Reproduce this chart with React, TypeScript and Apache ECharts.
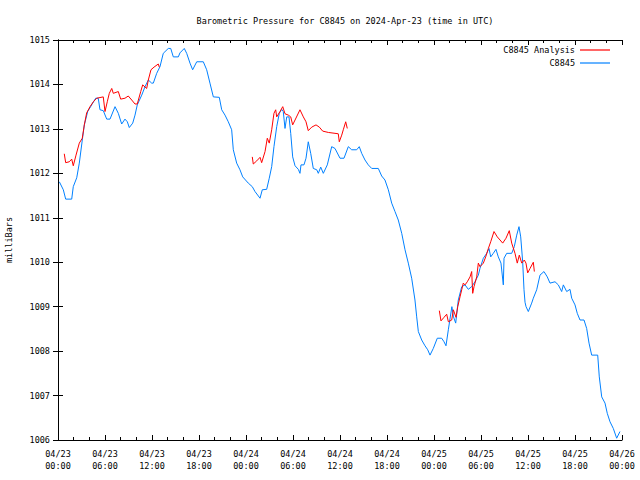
import React, { useEffect, useRef } from "react";
import * as echarts from "echarts";

// hours since 2024-04-23 00:00 UTC
const blueHours = [0.17,0.68,0.98,1.75,1.95,2.39,2.72,3.10,3.36,3.79,4.30,4.81,5.14,5.36,5.78,6.22,6.64,7.28,7.70,8.13,8.55,8.85,9.10,9.54,9.83,10.12,10.69,11.11,11.53,11.96,12.17,12.60,13.02,13.44,14.08,14.39,14.72,15.36,15.57,16.12,16.43,16.85,17.19,17.71,18.55,18.98,19.40,19.83,20.59,20.90,21.32,21.74,22.17,22.38,22.81,23.23,23.58,24.29,24.80,25.15,25.79,26.08,26.64,26.97,27.28,27.57,27.92,28.25,28.56,28.76,28.98,29.20,29.49,29.71,29.96,30.26,30.68,30.89,31.02,31.40,31.66,31.95,32.26,32.59,33.03,33.23,33.54,33.87,34.38,34.94,35.36,36.00,36.51,37.06,37.49,38.13,38.46,38.77,39.19,39.61,40.05,40.89,41.32,41.74,42.17,42.60,43.02,43.44,43.88,44.30,44.72,45.15,45.57,45.79,46.00,46.43,46.85,47.20,47.49,47.91,48.42,48.98,49.28,49.53,49.83,50.28,50.49,50.77,51.10,51.54,51.96,52.38,52.81,53.23,53.66,53.87,54.30,54.73,55.02,55.24,55.57,55.91,56.21,56.55,56.85,56.94,57.28,57.92,58.25,58.56,58.85,59.07,59.32,59.49,59.62,59.75,60.04,60.47,60.68,61.11,61.53,62.04,62.46,62.81,63.45,63.87,64.30,64.51,64.94,65.36,65.58,66.00,66.29,66.64,67.15,67.49,67.79,68.13,68.90,69.10,69.41,69.83,70.12,70.47,70.89,71.32,71.74];
const bluePressure = [1011.81,1011.63,1011.42,1011.42,1011.70,1011.90,1012.23,1012.75,1013.09,1013.39,1013.54,1013.69,1013.69,1013.43,1013.41,1013.22,1013.22,1013.50,1013.35,1013.11,1013.22,1013.16,1013.03,1013.13,1013.31,1013.54,1013.76,1013.95,1014.10,1014.03,1014.03,1014.25,1014.40,1014.70,1014.81,1014.81,1014.62,1014.62,1014.71,1014.81,1014.70,1014.48,1014.33,1014.51,1014.51,1014.33,1014.03,1013.72,1013.71,1013.43,1013.31,1013.16,1012.98,1012.53,1012.23,1012.08,1011.92,1011.78,1011.70,1011.59,1011.44,1011.63,1011.64,1011.89,1012.15,1012.60,1013.05,1013.35,1013.44,1013.39,1013.01,1013.27,1013.27,1012.90,1012.37,1012.17,1012.09,1012.00,1012.19,1012.19,1012.34,1012.71,1012.45,1012.11,1012.08,1012.00,1012.14,1012.00,1012.19,1012.60,1012.56,1012.34,1012.34,1012.60,1012.53,1012.53,1012.60,1012.45,1012.30,1012.19,1012.11,1012.11,1011.94,1011.85,1011.63,1011.33,1011.14,1010.95,1010.65,1010.28,1009.98,1009.64,1009.15,1008.77,1008.44,1008.25,1008.12,1008.03,1007.91,1008.06,1008.29,1008.29,1008.21,1008.12,1008.48,1009.00,1008.77,1008.63,1009.15,1009.45,1009.49,1009.39,1009.45,1009.56,1009.71,1009.86,1010.09,1010.20,1010.31,1010.12,1010.20,1010.29,1010.12,1009.98,1009.49,1010.09,1010.20,1010.20,1010.35,1010.61,1010.80,1010.57,1010.01,1009.38,1009.10,1009.00,1008.89,1009.08,1009.19,1009.38,1009.71,1009.79,1009.67,1009.53,1009.56,1009.49,1009.34,1009.49,1009.34,1009.39,1009.19,1009.04,1008.85,1008.70,1008.70,1008.51,1008.18,1007.91,1007.91,1007.42,1006.97,1006.83,1006.60,1006.41,1006.26,1006.04,1006.19];

const redHoursA = [0.80,0.98,1.44,1.75,1.95,2.30,2.72,3.10,3.36,3.66,4.09,4.51,4.94,5.78,6.00,6.29,6.55,6.86,7.06,7.70,8.00,8.55,8.97,9.41,9.83,10.12,10.56,10.81,11.32,11.53,11.87,12.26,12.80,12.93];
const redPressureA = [1012.44,1012.24,1012.26,1012.32,1012.17,1012.41,1012.68,1012.79,1013.09,1013.36,1013.50,1013.61,1013.69,1013.72,1013.39,1013.61,1013.80,1013.91,1013.80,1013.84,1013.67,1013.69,1013.74,1013.65,1013.56,1013.56,1013.84,1013.99,1013.91,1014.10,1014.33,1014.39,1014.46,1014.39];
const redHoursB = [24.80,24.93,25.37,25.79,26.00,26.43,26.72,26.97,27.28,27.57,27.79,27.92,28.34,28.69,28.98,29.40,29.71,29.96,30.26,30.89,31.32,31.66,31.95,32.39,32.94,33.36,33.79,34.51,35.36,35.78,35.91,36.22,36.42,36.73,36.93];
const redPressureB = [1012.37,1012.21,1012.28,1012.36,1012.24,1012.49,1012.79,1012.68,1012.98,1013.35,1013.43,1013.27,1013.39,1013.50,1013.34,1013.31,1013.27,1013.09,1013.20,1013.43,1013.27,1013.16,1012.96,1013.04,1013.09,1013.04,1012.95,1012.92,1012.90,1012.89,1012.71,1012.86,1012.98,1013.16,1013.01];
const redHoursC = [48.68,48.89,49.28,49.62,49.83,50.26,50.47,50.81,51.03,51.32,51.54,51.74,51.96,52.25,52.60,52.81,52.94,53.11,53.45,53.66,53.87,54.30,54.60,54.94,55.24,55.66,56.08,56.43,56.77,57.19,57.61,57.92,58.34,58.63,58.89,59.20,59.53,59.74,59.96,60.26,60.68,60.81];
const redPressureC = [1008.91,1008.68,1008.76,1008.83,1008.66,1008.70,1008.93,1008.76,1009.00,1009.22,1009.38,1009.53,1009.49,1009.56,1009.67,1009.79,1009.30,1009.45,1009.67,1009.98,1009.90,1009.98,1010.12,1010.31,1010.46,1010.69,1010.57,1010.50,1010.43,1010.54,1010.71,1010.43,1010.20,1009.98,1010.16,1009.98,1010.05,1009.98,1009.76,1009.86,1010.00,1009.79];

const dayLabels = ["04/23", "04/24", "04/25", "04/26"];
const hourLabels = ["00:00", "06:00", "12:00", "18:00"];

const FONT = "DejaVu Sans Mono";
const FS = 8.5;

const zip = (a: number[], b: number[]) => a.map((v, i) => [v, b[i]]);

export default function App() {
  const ref = useRef<HTMLDivElement>(null);
  useEffect(() => {
    if (!ref.current) return;
    const chart = echarts.init(ref.current, undefined, { renderer: "svg" });
    const xBase = {
      type: "value" as const,
      min: 0,
      max: 72,
      interval: 6,
      splitLine: { show: false },
      axisLine: { show: true, lineStyle: { color: "#000", width: 1 } },
      axisTick: { show: true, inside: true, length: 5, lineStyle: { color: "#000" } },
      minorTick: { show: true, splitNumber: 3, length: 3, lineStyle: { color: "#000" } },
    };
    const yBase = {
      type: "value" as const,
      min: 1006,
      max: 1015,
      interval: 1,
      splitLine: { show: false },
      axisLine: { show: true, lineStyle: { color: "#000", width: 1 } },
      axisTick: { show: true, inside: true, length: 5, lineStyle: { color: "#000" } },
    };
    const redStyle = { color: "#ff0000", width: 1 };
    const mkRed = (h: number[], p: number[]) => ({
      name: "C8845 Analysis",
      type: "line",
      data: zip(h, p),
      showSymbol: false,
      symbol: "none",
      lineStyle: redStyle,
      itemStyle: { color: "#ff0000" },
      z: 3,
    });
    chart.setOption({
      animation: false,
      textStyle: { fontFamily: FONT },
      title: {
        text: "Barometric Pressure for C8845 on 2024-Apr-23 (time in UTC)",
        left: 340,
        textAlign: "center",
        top: 11,
        textStyle: { fontFamily: FONT, fontSize: FS, fontWeight: "normal", color: "#000" },
      },
      legend: {
        orient: "vertical",
        right: 25,
        top: 40,
        align: "right",
        icon: "rect",
        itemWidth: 30,
        itemHeight: 1.2,
        itemGap: 3,
        textStyle: { fontFamily: FONT, fontSize: FS, color: "#000", lineHeight: 10 },
        data: ["C8845 Analysis", "C8845"],
      },
      grid: { left: 58, right: 18, top: 40, bottom: 40, containLabel: false, outerBoundsMode: "none" },
      xAxis: [
        {
          ...xBase,
          position: "bottom",
          axisLabel: {
            margin: 8,
            fontFamily: FONT,
            fontSize: FS,
            color: "#000",
            lineHeight: 12,
            formatter: (v: number) =>
              dayLabels[Math.floor(v / 24)] + "\n" + hourLabels[Math.round((v % 24) / 6)],
          },
        },
        { ...xBase, position: "top", axisLabel: { show: false } },
      ],
      yAxis: [
        {
          ...yBase,
          position: "left",
          name: "milliBars",
          nameLocation: "middle",
          nameGap: 45,
          nameRotate: 90,
          nameTextStyle: { fontFamily: FONT, fontSize: FS, color: "#000" },
          axisLabel: {
            margin: 8,
            fontFamily: FONT,
            fontSize: FS,
            color: "#000",
            formatter: (v: number) => String(v),
          },
        },
        { ...yBase, position: "right", axisLabel: { show: false } },
      ],
      series: [
        mkRed(redHoursA, redPressureA),
        mkRed(redHoursB, redPressureB),
        mkRed(redHoursC, redPressureC),
        {
          name: "C8845",
          type: "line",
          data: zip(blueHours, bluePressure),
          showSymbol: false,
          symbol: "none",
          lineStyle: { color: "#0080ff", width: 1 },
          itemStyle: { color: "#0080ff" },
          z: 2,
        },
      ],
    });
    return () => chart.dispose();
  }, []);
  return <div ref={ref} style={{ width: 640, height: 480, position: "absolute", left: 0, top: 0, background: "#fff" }} />;
}
